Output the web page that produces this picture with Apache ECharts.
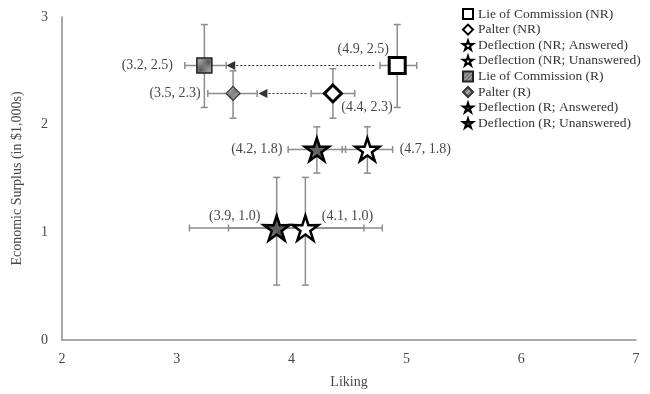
<!DOCTYPE html>
<html><head><meta charset="utf-8">
<script src="https://cdn.jsdelivr.net/npm/echarts@6/dist/echarts.min.js"></script>
<style>html,body{margin:0;padding:0;background:#fff}#c{width:650px;height:394px}</style>
</head><body><div id="c"></div>
<script>
// ---- data ----
var seriesNames = ['Lie of Commission (NR)','Palter (NR)','Deflection (NR; Answered)','Deflection (NR; Unanswered)',
                   'Lie of Commission (R)','Palter (R)','Deflection (R; Answered)','Deflection (R; Unanswered)'];
var xVals = [4.92, 4.36, 4.66, 4.12, 3.24, 3.49, 4.22, 3.87];
var yVals = [2.55, 2.29, 1.77, 1.04, 2.55, 2.29, 1.77, 1.04];
var xLow  = [4.77, 4.17, 4.44, 3.45, 3.07, 3.27, 3.97, 3.11];
var xHigh = [5.09, 4.55, 4.88, 4.79, 3.43, 3.70, 4.47, 4.63];
var yLow  = [2.16, 2.06, 1.55, 0.51, 2.16, 2.06, 1.55, 0.51];
var yHigh = [2.93, 2.52, 1.98, 1.51, 2.93, 2.50, 1.98, 1.51];
var pointLabels = ['(4.9, 2.5)','(4.4, 2.3)','(4.7, 1.8)','(4.1, 1.0)','(3.2, 2.5)','(3.5, 2.3)','(4.2, 1.8)','(3.9, 1.0)'];
// dotted arrows: from x, to x, at y
var arrowFromX = [4.72, 4.13];
var arrowToX   = [3.47, 3.75];
var arrowY     = [2.55, 2.29];
var xTicks = [2, 3, 4, 5, 6, 7];
var yTicks = [0, 1, 2, 3];

// ---- styles ----
var STAR = 'path://M50 0 L61.17 34.63 L97.55 34.55 L68.07 55.87 L79.39 90.45 L50 69 L20.61 90.45 L31.93 55.87 L2.45 34.55 L38.83 34.63 Z';
function hatch(bg, fg){
  var c = document.createElement('canvas'); c.width = 4; c.height = 4;
  var g = c.getContext('2d'); g.fillStyle = bg; g.fillRect(0,0,4,4);
  g.strokeStyle = fg; g.lineWidth = 1;
  g.beginPath(); g.moveTo(0,4); g.lineTo(4,0); g.moveTo(-1,1); g.lineTo(1,-1); g.moveTo(3,5); g.lineTo(5,3); g.stroke();
  return {image: c, repeat: 'repeat'};
}
var symbols = ['rect','diamond',STAR,STAR,'rect','diamond',STAR,STAR];
var sizes   = [16, 17, 24, 26, 15, 14, 24, 26];
var fills   = ['#fff','#fff','#fff','#fff', hatch('#9a9a9a','#555'), hatch('#aaa','#666'), hatch('#3a3a3a','#8a8a8a'), hatch('#333','#888')];
var borders = ['#000','#000','#000','#000','#222','#333','#000','#000'];
var bw      = [3, 3, 2.5, 2.5, 1.5, 1.2, 2.5, 2.5];
var labelOffsets = [[-34,-16],[34,14],[58,0],[42,-12],[-57,0],[-58,0],[-60,0],[-42,-12]];
var FONT = '"Liberation Serif", "DejaVu Serif", serif';
var TXT = '#484848';
var ERR = '#8c8c8c';

var series = [];
var errData = xVals.map(function(x,i){ return [x, yVals[i], xLow[i], xHigh[i], yLow[i], yHigh[i]]; });
series.push({
  type: 'custom', name: 'err', z: 1, silent: true,
  data: errData,
  renderItem: function(params, api){
    var x = api.value(0), y = api.value(1);
    var pL = api.coord([api.value(2), y]), pR = api.coord([api.value(3), y]);
    var pT = api.coord([x, api.value(5)]), pB = api.coord([x, api.value(4)]);
    var cap = 3.5;
    var st = {stroke: ERR, lineWidth: 1.5};
    function ln(a,b,c,d){ return {type:'line', shape:{x1:a,y1:b,x2:c,y2:d}, style: st}; }
    return {type:'group', children:[
      ln(pL[0],pL[1],pR[0],pR[1]),
      ln(pL[0],pL[1]-cap,pL[0],pL[1]+cap),
      ln(pR[0],pR[1]-cap,pR[0],pR[1]+cap),
      ln(pT[0],pT[1],pB[0],pB[1]),
      ln(pT[0]-cap,pT[1],pT[0]+cap,pT[1]),
      ln(pB[0]-cap,pB[1],pB[0]+cap,pB[1])
    ]};
  }
});
series.push({
  type: 'scatter', name: 'arrows', data: [[arrowFromX[0], arrowY[0]]], symbolSize: 0, silent: true, z: 2,
  markLine: {
    silent: true, animation: false,
    symbol: ['none','triangle'], symbolSize: 9,
    label: {show: false},
    lineStyle: {type: [2, 2], color: '#333', width: 1, opacity: 1},
    emphasis: {disabled: true},
    data: arrowFromX.map(function(x,i){ return [{coord:[x, arrowY[i]]},{coord:[arrowToX[i], arrowY[i]]}]; })
  }
});
seriesNames.forEach(function(n,i){
  series.push({
    type: 'scatter', name: n, z: 5,
    symbol: symbols[i], symbolSize: sizes[i], symbolKeepAspect: true,
    itemStyle: {color: fills[i], borderColor: borders[i], borderWidth: bw[i], opacity: 1},
    label: {show: true, formatter: pointLabels[i], position: 'inside', offset: labelOffsets[i],
            fontFamily: FONT, fontSize: 14, color: TXT},
    data: [[xVals[i], yVals[i]]]
  });
});

var chart = echarts.init(document.getElementById('c'), null, {renderer: 'canvas'});
chart.setOption({
  animation: false,
  backgroundColor: '#fff',
  grid: {left: 62, right: 14, top: 17, bottom: 54},
  legend: {
    data: seriesNames, orient: 'vertical', left: 457, top: 2,
    itemWidth: 10, itemHeight: 10, itemGap: 1.6,
    textStyle: {fontFamily: FONT, fontSize: 13.5, lineHeight: 13, color: '#333'},
    selectedMode: false
  },
  xAxis: {
    type: 'value', min: xTicks[0], max: xTicks[xTicks.length-1], interval: 1,
    name: 'Liking', nameLocation: 'middle', nameGap: 35,
    nameTextStyle: {fontFamily: FONT, fontSize: 14, color: TXT},
    axisLine: {lineStyle: {color: '#8c8c8c', width: 1.5}},
    axisTick: {show: false}, splitLine: {show: false},
    axisLabel: {fontFamily: FONT, fontSize: 14, color: TXT, margin: 12}
  },
  yAxis: {
    type: 'value', min: yTicks[0], max: yTicks[yTicks.length-1], interval: 1,
    name: 'Economic Surplus (in $1,000s)', nameLocation: 'middle', nameGap: 38,
    nameTextStyle: {fontFamily: FONT, fontSize: 14, color: TXT},
    axisLine: {show: true, lineStyle: {color: '#8c8c8c', width: 1.5}},
    axisTick: {show: false}, splitLine: {show: false},
    axisLabel: {fontFamily: FONT, fontSize: 14, color: TXT, margin: 14}
  },
  series: series
});
</script>
</body></html>
